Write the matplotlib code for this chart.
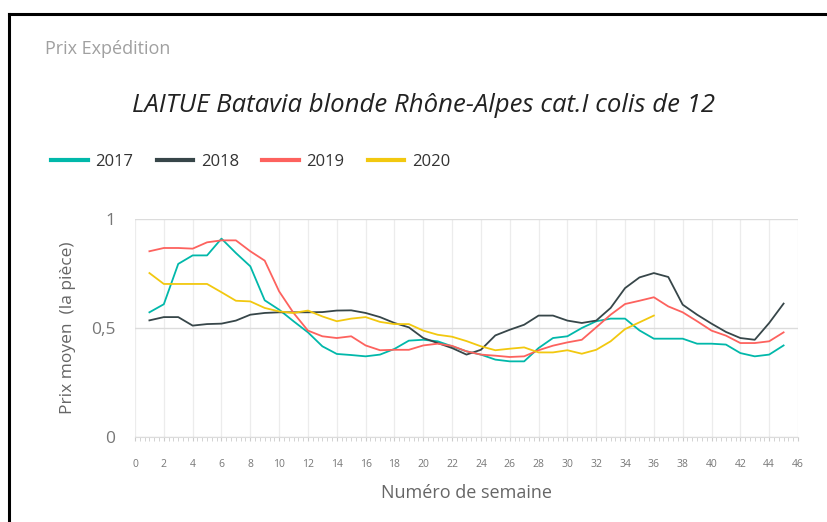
import numpy as np
import matplotlib.pyplot as plt
from matplotlib.ticker import MultipleLocator, FuncFormatter
from matplotlib.lines import Line2D

plt.rcParams['font.family'] = ['Open Sans', 'DejaVu Sans']

# prix moyen par semaine
weeks = np.arange(1, 46)
prix_2017 = [0.572, 0.609, 0.794, 0.833, 0.833, 0.910, 0.844, 0.783, 0.627, 0.584,
             0.531, 0.480, 0.416, 0.381, 0.376, 0.370, 0.378, 0.404, 0.442, 0.446,
             0.439, 0.416, 0.393, 0.378, 0.355, 0.347, 0.347, 0.408, 0.454, 0.462,
             0.500, 0.531, 0.543, 0.543, 0.489, 0.451, 0.451, 0.451, 0.428, 0.428,
             0.424, 0.385, 0.370, 0.378, 0.420]
prix_2018 = [0.535, 0.550, 0.550, 0.511, 0.518, 0.520, 0.534, 0.561, 0.569, 0.572,
             0.572, 0.572, 0.573, 0.580, 0.581, 0.569, 0.550, 0.523, 0.503, 0.454,
             0.431, 0.408, 0.378, 0.400, 0.466, 0.492, 0.515, 0.557, 0.557, 0.534,
             0.523, 0.534, 0.592, 0.683, 0.732, 0.752, 0.734, 0.607, 0.561, 0.520,
             0.482, 0.454, 0.446, 0.523, 0.612]
prix_2019 = [0.852, 0.867, 0.867, 0.864, 0.893, 0.902, 0.902, 0.852, 0.809, 0.668,
             0.569, 0.488, 0.462, 0.454, 0.462, 0.420, 0.398, 0.400, 0.400, 0.420,
             0.428, 0.418, 0.393, 0.378, 0.373, 0.367, 0.370, 0.398, 0.419, 0.434,
             0.446, 0.503, 0.561, 0.610, 0.625, 0.641, 0.599, 0.572, 0.531, 0.488,
             0.465, 0.431, 0.431, 0.439, 0.480]
weeks_2020 = np.arange(1, 37)
prix_2020 = [0.752, 0.702, 0.702, 0.702, 0.702, 0.664, 0.625, 0.622, 0.592, 0.576,
             0.569, 0.580, 0.553, 0.531, 0.543, 0.550, 0.528, 0.518, 0.518, 0.488,
             0.469, 0.460, 0.440, 0.416, 0.398, 0.405, 0.411, 0.388, 0.388, 0.398,
             0.382, 0.400, 0.439, 0.495, 0.526, 0.557]

colors = {'2017': '#01B8AA', '2018': '#374649', '2019': '#FD625E', '2020': '#F2C80F'}

fig = plt.figure(figsize=(8.28, 5.22), dpi=100)
ax = fig.add_axes([135 / 828, 1 - 437 / 522, 663 / 828, 218 / 522])

ax.plot(weeks, prix_2017, color=colors['2017'], lw=1.3, label='2017', clip_on=False)
ax.plot(weeks, prix_2018, color=colors['2018'], lw=1.3, label='2018', clip_on=False)
ax.plot(weeks, prix_2019, color=colors['2019'], lw=1.3, label='2019', clip_on=False)
ax.plot(weeks_2020, prix_2020, color=colors['2020'], lw=1.3, label='2020', clip_on=False)

ax.set_xlim(0, 46)
ax.set_ylim(0, 1)
ax.xaxis.set_major_locator(MultipleLocator(2))
ax.xaxis.set_minor_locator(MultipleLocator(1 / 3))
ax.yaxis.set_major_locator(MultipleLocator(0.5))
ax.yaxis.set_major_formatter(FuncFormatter(lambda v, p: ('%g' % v).replace('.', ',')))

for s in ['top', 'right', 'left']:
    ax.spines[s].set_visible(False)
ax.spines['bottom'].set_color('#dcdcdc')
ax.grid(axis='x', color='#ececec', lw=0.9)
ax.grid(axis='y', color='#dcdcdc', lw=1.0)
ax.set_axisbelow(True)
ax.tick_params(axis='x', which='major', length=3, color='#cccccc', labelsize=7.5,
               labelcolor='#777777', pad=13)
ax.tick_params(axis='x', which='minor', length=3, color='#cccccc')
ax.tick_params(axis='y', length=0, labelsize=12.5, labelcolor='#777777', pad=14)

ax.set_xlabel('Numéro de semaine', fontsize=13, color='#666666', labelpad=10)
ax.set_ylabel('Prix moyen  (la pièce)', fontsize=12.5, color='#666666', labelpad=11)

fig.text(45 / 828, 1 - 49 / 522, 'Prix Expédition', fontsize=13, color='#a0a0a0',
         va='center', ha='left')
fig.text(424 / 828, 1 - 106 / 522, 'LAITUE Batavia blonde Rhône-Alpes cat.I colis de 12',
         fontsize=18.5, style='italic', color='#222222', va='center', ha='center')

fig.legend(loc='center left', bbox_to_anchor=(51 / 828, 1 - 162 / 522), ncol=4,
           frameon=False, fontsize=12, handlelength=2.2, handletextpad=0.45,
           columnspacing=1.4, borderaxespad=0, borderpad=0, labelcolor='#333333')
for lh in fig.legends[0].get_lines():
    lh.set_linewidth(3)

# cadre
fig.add_artist(Line2D([9 / 828, 9 / 828], [0, 1 - 14 / 522], color='black', lw=2.2))
fig.add_artist(Line2D([9 / 828, 1], [1 - 14 / 522, 1 - 14 / 522], color='black', lw=2.2))

fig.savefig('out.png', dpi=100)
